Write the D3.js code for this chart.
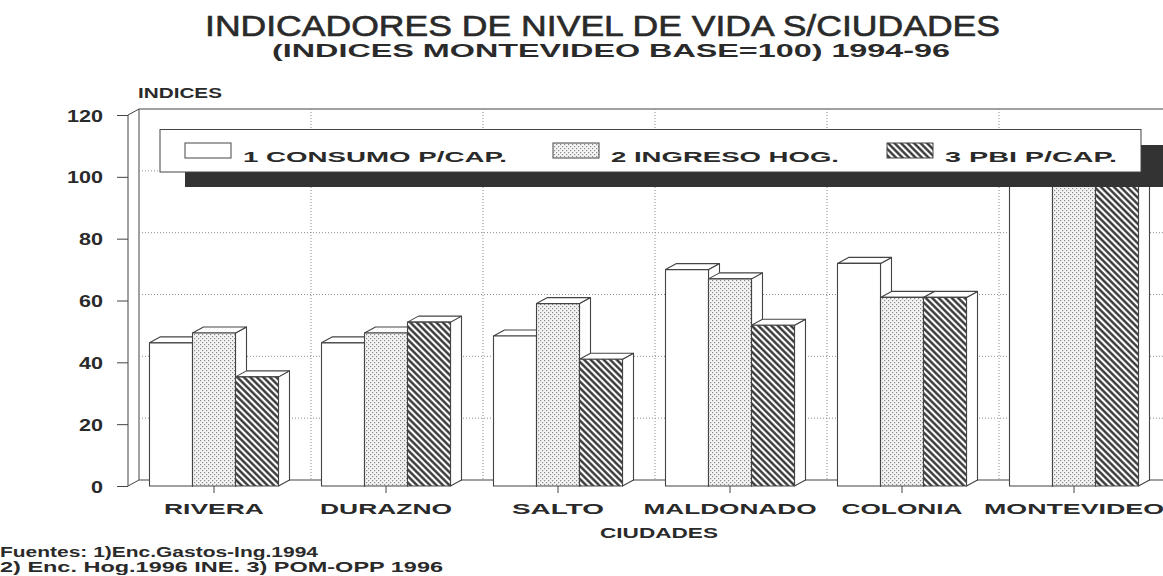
<!DOCTYPE html>
<html>
<head>
<meta charset="utf-8">
<script src="https://cdn.jsdelivr.net/npm/d3@7"></script>
<style>
  body { margin: 0; background: #fff; }
  svg { display: block; }
  text { fill: #2a2a2a; }
</style>
</head>
<body>
<svg id="chart" width="1163" height="576"></svg>
<script>
// data
var cities = ["RIVERA", "DURAZNO", "SALTO", "MALDONADO", "COLONIA", "MONTEVIDEO"];
var consumo = [46.3, 46.3, 48.5, 70, 72, 100];
var ingreso = [49.5, 49.5, 59, 67, 61, 100];
var pbi = [35.3, 53, 41, 52, 61, 100];
var seriesNames = ["1 CONSUMO P/CAP.", "2 INGRESO HOG.", "3 PBI P/CAP."];
var yTicks = [0, 20, 40, 60, 80, 100, 120];

var series = [consumo, ingreso, pbi];
var fills = ["#fff", "url(#dots)", "url(#hatch)"];
var lineColor = "#444";
var dx = 11, dy = 6; // depth of the 3d effect
var font = "Liberation Sans, Arial, sans-serif";

var svg = d3.select("#chart");
svg.append("rect").attr("width", 1163).attr("height", 576).attr("fill", "#fff");

// patterns
var defs = svg.append("defs");
var dots = defs.append("pattern").attr("id", "dots")
  .attr("patternUnits", "userSpaceOnUse").attr("width", 4).attr("height", 4);
dots.append("rect").attr("width", 4).attr("height", 4).attr("fill", "#f4f4f4");
dots.append("rect").attr("x", 0).attr("y", 0).attr("width", 1.2).attr("height", 1.2).attr("fill", "#8a8a8a");
dots.append("rect").attr("x", 2).attr("y", 2).attr("width", 1.2).attr("height", 1.2).attr("fill", "#8a8a8a");

var hatch = defs.append("pattern").attr("id", "hatch")
  .attr("patternUnits", "userSpaceOnUse").attr("width", 8).attr("height", 4.6)
  .attr("patternTransform", "rotate(45)");
hatch.append("rect").attr("width", 8).attr("height", 4.6).attr("fill", "#fff");
hatch.append("line").attr("x1", 0).attr("x2", 8).attr("y1", 2.3).attr("y2", 2.3)
  .attr("stroke", "#2e2e2e").attr("stroke-width", 2.3);

// scales
var x = d3.scaleBand().domain(cities).range([128, 1160]);
var xs = d3.scaleBand().domain([0, 1, 2]).range([0, 129]);
var y = d3.scaleLinear().domain([0, 120]).range([486, 115]);
var groupPad = (x.step() - 129) / 2;

// titles
svg.append("text").attr("x", 205).attr("y", 36)
  .attr("font-family", font).attr("font-size", 29).attr("stroke", "#2a2a2a").attr("stroke-width", 0.6)
  .attr("textLength", 795).attr("lengthAdjust", "spacingAndGlyphs")
  .text("INDICADORES DE NIVEL DE VIDA S/CIUDADES");
svg.append("text").attr("x", 272).attr("y", 57)
  .attr("font-family", font).attr("font-weight", "bold").attr("font-size", 18)
  .attr("textLength", 678).attr("lengthAdjust", "spacingAndGlyphs")
  .text("(INDICES MONTEVIDEO BASE=100) 1994-96");

// back wall, left wall and floor
var wall = svg.append("g").attr("fill", "none").attr("stroke", lineColor).attr("stroke-width", 1);
var x0 = x.range()[0];
wall.append("line").attr("x1", x0 + dx).attr("x2", 1163).attr("y1", y(120) - dy).attr("y2", y(120) - dy);
wall.append("line").attr("x1", x0 + dx).attr("x2", x0 + dx).attr("y1", y(120) - dy).attr("y2", y(0) - dy);
wall.append("line").attr("x1", x0).attr("x2", x0 + dx).attr("y1", y(120)).attr("y2", y(120) - dy);
wall.append("line").attr("x1", x0).attr("x2", x0 + dx).attr("y1", y(0)).attr("y2", y(0) - dy);
wall.append("line").attr("x1", x0 + dx).attr("x2", 1163).attr("y1", y(0) - dy).attr("y2", y(0) - dy);

// dotted gridlines on the back wall
var grid = svg.append("g").attr("stroke", "#8c8c8c").attr("stroke-width", 1)
  .attr("stroke-dasharray", "1,2");
grid.selectAll(".hg").data(yTicks.filter(function (d) { return d > 0 && d < 120; }))
  .enter().append("line")
  .attr("x1", x0 + dx).attr("x2", 1163)
  .attr("y1", function (d) { return y(d) - dy; })
  .attr("y2", function (d) { return y(d) - dy; });
grid.selectAll(".vg").data(cities.slice(1))
  .enter().append("line")
  .attr("x1", function (d) { return x(d) + dx; })
  .attr("x2", function (d) { return x(d) + dx; })
  .attr("y1", y(120) - dy).attr("y2", y(0) - dy);

// 3d bars
var bars = svg.append("g").attr("stroke", lineColor).attr("stroke-width", 1.1)
  .attr("stroke-linejoin", "round");
cities.forEach(function (c, i) {
  series.forEach(function (s, k) {
    var bx = x(c) + groupPad + xs(k);
    var bw = xs.bandwidth();
    var top = y(s[i]);
    var base = y(0);
    var g = bars.append("g");
    g.append("path").attr("fill", "#fff")
      .attr("d", "M" + (bx + bw) + "," + top + "L" + (bx + bw + dx) + "," + (top - dy) +
        "L" + (bx + bw + dx) + "," + (base - dy) + "L" + (bx + bw) + "," + base + "Z");
    g.append("path").attr("fill", "#fff")
      .attr("d", "M" + bx + "," + top + "L" + (bx + dx) + "," + (top - dy) +
        "L" + (bx + bw + dx) + "," + (top - dy) + "L" + (bx + bw) + "," + top + "Z");
    g.append("rect").attr("x", bx).attr("y", top).attr("width", bw)
      .attr("height", base - top).attr("fill", fills[k]);
  });
});

// y axis
var yAxis = svg.append("g").attr("transform", "translate(" + x0 + ",0)")
  .call(d3.axisLeft(y).tickValues(yTicks).tickSize(11).tickPadding(14));
yAxis.select(".domain").attr("stroke", lineColor).attr("d", "M0," + y(120) + "V" + y(0));
yAxis.selectAll(".tick line").attr("stroke", lineColor);
yAxis.selectAll(".tick text")
  .attr("font-family", font).attr("font-weight", "bold").attr("font-size", 17)
  .attr("textLength", function (d) { return String(d).length * 12; })
  .attr("lengthAdjust", "spacingAndGlyphs")
  .attr("dy", "0.36em").attr("fill", "#2a2a2a");
svg.append("text").attr("x", 138).attr("y", 98)
  .attr("font-family", font).attr("font-weight", "bold")
  .attr("font-size", 14).attr("textLength", 84).attr("lengthAdjust", "spacingAndGlyphs")
  .text("INDICES");

// x axis ticks and labels
var labelW = [100, 132, 92, 173, 121, 180];
var xAx = svg.append("g");
xAx.selectAll("line").data(cities).enter().append("line")
  .attr("x1", function (d) { return x(d) + x.bandwidth() / 2; })
  .attr("x2", function (d) { return x(d) + x.bandwidth() / 2; })
  .attr("y1", y(0)).attr("y2", y(0) + 7)
  .attr("stroke", lineColor);
xAx.selectAll("text").data(cities).enter().append("text")
  .attr("x", function (d) { return x(d) + x.bandwidth() / 2; })
  .attr("y", 514).attr("text-anchor", "middle")
  .attr("font-family", font).attr("font-weight", "bold")
  .attr("font-size", 15).attr("fill", "#3a3a3a")
  .attr("textLength", function (d, i) { return labelW[i]; })
  .attr("lengthAdjust", "spacingAndGlyphs")
  .text(function (d) { return d; });
svg.append("text").attr("x", 659).attr("y", 538).attr("text-anchor", "middle")
  .attr("font-family", font).attr("font-weight", "bold").attr("fill", "#3a3a3a")
  .attr("font-size", 15).attr("textLength", 118).attr("lengthAdjust", "spacingAndGlyphs")
  .text("CIUDADES");

// legend with its shadow
svg.append("rect").attr("x", 185).attr("y", 145).attr("width", 1000).attr("height", 42)
  .attr("fill", "#333");
svg.append("rect").attr("x", 160).attr("y", 129.5).attr("width", 981).attr("height", 42.5)
  .attr("fill", "#fff").attr("stroke", lineColor);
var legX = [185, 553, 887];
var legTextX = [243, 611, 945];
var legTextW = [264, 228, 172];
var leg = svg.append("g");
seriesNames.forEach(function (n, k) {
  leg.append("rect").attr("x", legX[k]).attr("y", 143).attr("width", 46).attr("height", 15)
    .attr("fill", fills[k]).attr("stroke", lineColor);
  leg.append("text").attr("x", legTextX[k]).attr("y", 161.5)
    .attr("font-family", font).attr("font-weight", "bold").attr("fill", "#3a3a3a")
    .attr("font-size", 15).attr("textLength", legTextW[k]).attr("lengthAdjust", "spacingAndGlyphs")
    .text(n);
});

// sources
svg.append("text").attr("x", 0).attr("y", 557)
  .attr("font-family", font).attr("font-weight", "bold")
  .attr("font-size", 14).attr("textLength", 318).attr("lengthAdjust", "spacingAndGlyphs")
  .text("Fuentes: 1)Enc.Gastos-Ing.1994");
svg.append("text").attr("x", 0).attr("y", 572)
  .attr("font-family", font).attr("font-weight", "bold")
  .attr("font-size", 14).attr("textLength", 443).attr("lengthAdjust", "spacingAndGlyphs")
  .text("2) Enc. Hog.1996 INE. 3) POM-OPP 1996");
</script>
</body>
</html>
